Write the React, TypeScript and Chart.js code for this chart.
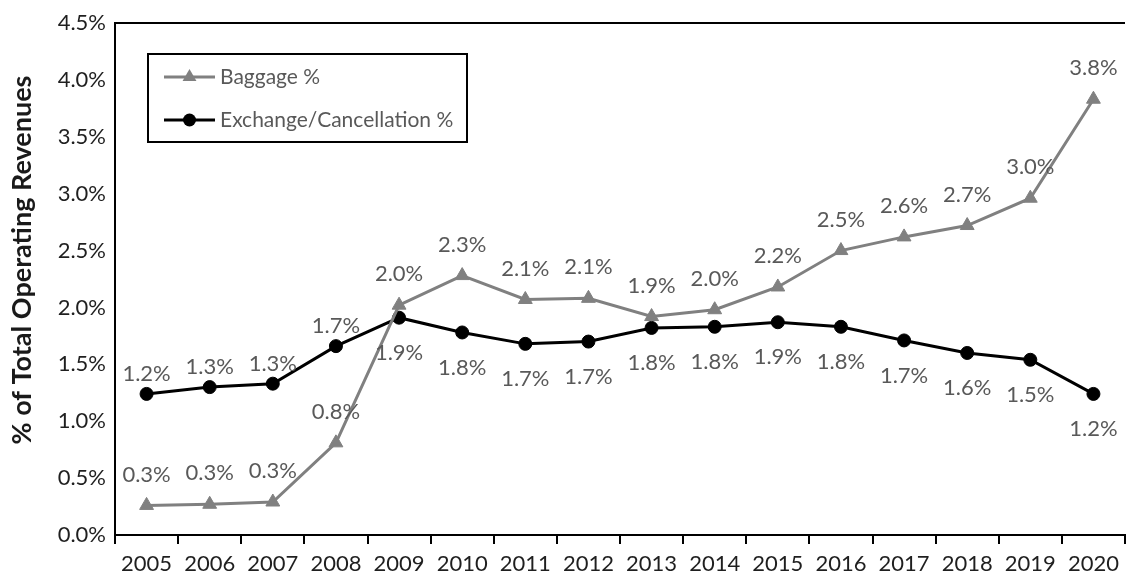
import React, { useEffect, useRef } from "react";
import { Chart, registerables } from "chart.js";

Chart.register(...registerables);

// Categories and series values (% of total operating revenues)
const years = [
  "2005", "2006", "2007", "2008", "2009", "2010", "2011", "2012",
  "2013", "2014", "2015", "2016", "2017", "2018", "2019", "2020",
];
const baggagePct = [
  0.26, 0.27, 0.29, 0.81, 2.02, 2.28, 2.07, 2.08,
  1.92, 1.98, 2.18, 2.5, 2.62, 2.72, 2.96, 3.83,
];
const exchangePct = [
  1.24, 1.3, 1.33, 1.66, 1.91, 1.78, 1.68, 1.7,
  1.82, 1.83, 1.87, 1.83, 1.71, 1.6, 1.54, 1.24,
];
const seriesNames = ["Baggage %", "Exchange/Cancellation %"];
const yMin = 0;
const yMax = 4.5;
const yStep = 0.5;
const yTitle = "% of Total Operating Revenues";

const FONT = "Lato, 'Open Sans', sans-serif";
const LABEL_COLOR = "#595959";
const TICK_COLOR = "#1f1f1f";
const BAGGAGE_COLOR = "#808080";
const EXCHANGE_COLOR = "#000000";

const fmt = (v: number) => v.toFixed(1) + "%";

// Value labels above/below each point
const valueLabels = {
  id: "valueLabels",
  afterDatasetsDraw(chart: any) {
    const ctx = chart.ctx;
    ctx.save();
    ctx.font = `22px ${FONT}`;
    ctx.fillStyle = LABEL_COLOR;
    ctx.textAlign = "center";
    ctx.textBaseline = "middle";
    const bag = chart.getDatasetMeta(0).data;
    const exc = chart.getDatasetMeta(1).data;
    bag.forEach((pt: any, i: number) => {
      ctx.fillText(fmt(baggagePct[i]), pt.x, pt.y - 31);
    });
    exc.forEach((pt: any, i: number) => {
      const upper = exchangePct[i] > baggagePct[i];
      ctx.fillText(fmt(exchangePct[i]), pt.x, upper ? pt.y - 20 : pt.y + 35);
    });
    ctx.restore();
  },
};

function drawMarker(ctx: CanvasRenderingContext2D, style: string, x: number, y: number, r: number) {
  ctx.beginPath();
  if (style === "triangle") {
    for (let k = 0; k < 3; k++) {
      const ang = -Math.PI / 2 + (k * 2 * Math.PI) / 3;
      const px = x + Math.cos(ang) * r;
      const py = y + Math.sin(ang) * r;
      if (k === 0) ctx.moveTo(px, py);
      else ctx.lineTo(px, py);
    }
    ctx.closePath();
  } else {
    ctx.arc(x, y, r, 0, Math.PI * 2);
  }
  ctx.fill();
}

// Top frame line, rotated y-axis title and boxed legend inside the plot area
const frameAndLegend = {
  id: "frameAndLegend",
  afterDraw(chart: any) {
    const ctx = chart.ctx;
    const a = chart.chartArea;
    ctx.save();
    ctx.strokeStyle = "#000";
    ctx.lineWidth = 2;
    ctx.beginPath();
    ctx.moveTo(a.left - 1, a.top);
    ctx.lineTo(a.right, a.top);
    ctx.stroke();

    // y-axis title, sitting a little below the axis midpoint
    ctx.save();
    ctx.translate(22, (a.top + a.bottom) / 2 - 19);
    ctx.rotate(-Math.PI / 2);
    ctx.font = `bold 27px ${FONT}`;
    ctx.fillStyle = "#1a1a1a";
    ctx.textAlign = "center";
    ctx.textBaseline = "middle";
    ctx.fillText(yTitle, 0, 0);
    ctx.restore();

    const bx = a.left + 33;
    const by = a.top + 31;
    const bw = 319;
    const bh = 88;
    ctx.fillStyle = "#fff";
    ctx.fillRect(bx, by, bw, bh);
    ctx.strokeRect(bx, by, bw, bh);

    const rows = [
      { name: seriesNames[0], color: BAGGAGE_COLOR, style: "triangle", r: 8 },
      { name: seriesNames[1], color: EXCHANGE_COLOR, style: "circle", r: 6.5 },
    ];
    rows.forEach((row, i) => {
      const y = by + 23 + i * 43;
      const x0 = bx + 16;
      const x1 = bx + 67;
      ctx.strokeStyle = row.color;
      ctx.lineWidth = 3;
      ctx.beginPath();
      ctx.moveTo(x0, y);
      ctx.lineTo(x1, y);
      ctx.stroke();
      ctx.fillStyle = row.color;
      drawMarker(ctx, row.style, (x0 + x1) / 2, y, row.r);
      ctx.fillStyle = LABEL_COLOR;
      ctx.font = `21px ${FONT}`;
      ctx.textAlign = "left";
      ctx.textBaseline = "middle";
      ctx.fillText(row.name, x1 + 5, y);
    });
    ctx.restore();
  },
};

export default function App() {
  const canvasRef = useRef<HTMLCanvasElement | null>(null);

  useEffect(() => {
    document.body.style.margin = "0";
    const canvas = canvasRef.current;
    if (!canvas) return;
    const chart = new Chart(canvas, {
      type: "line",
      data: {
        labels: years,
        datasets: [
          {
            label: seriesNames[0],
            data: baggagePct,
            borderColor: BAGGAGE_COLOR,
            backgroundColor: BAGGAGE_COLOR,
            borderWidth: 3,
            pointStyle: "triangle",
            pointRadius: 8,
            pointBorderWidth: 1,
            pointBackgroundColor: BAGGAGE_COLOR,
            pointBorderColor: BAGGAGE_COLOR,
            tension: 0,
          },
          {
            label: seriesNames[1],
            data: exchangePct,
            borderColor: EXCHANGE_COLOR,
            backgroundColor: EXCHANGE_COLOR,
            borderWidth: 3,
            pointStyle: "circle",
            pointRadius: 6.5,
            pointBorderWidth: 1,
            pointBackgroundColor: EXCHANGE_COLOR,
            pointBorderColor: EXCHANGE_COLOR,
            tension: 0,
          },
        ],
      },
      options: {
        animation: false,
        responsive: true,
        maintainAspectRatio: false,
        layout: { padding: { top: 23, right: 0, bottom: 0, left: 0 } },
        plugins: {
          legend: { display: false },
          tooltip: { enabled: false },
        },
        scales: {
          x: {
            type: "category",
            offset: true,
            grid: {
              offset: true,
              drawOnChartArea: false,
              drawTicks: true,
              tickLength: 9,
              color: "#000",
              lineWidth: 2,
            },
            border: { display: true, color: "#000", width: 2 },
            ticks: {
              font: { family: FONT, size: 22 },
              color: TICK_COLOR,
              padding: 7,
              maxRotation: 0,
              autoSkip: false,
            },
            afterFit: (s: any) => {
              s.height = 41;
            },
          },
          y: {
            min: yMin,
            max: yMax,
            ticks: {
              stepSize: yStep,
              font: { family: FONT, size: 22 },
              color: TICK_COLOR,
              padding: 9,
              callback: (v: any) => fmt(Number(v)),
            },
            grid: { display: true, drawOnChartArea: false, drawTicks: false },
            border: { display: true, color: "#000", width: 2 },
            title: { display: false },
            afterFit: (s: any) => {
              s.width = 115;
            },
          },
        },
      },
      plugins: [valueLabels, frameAndLegend],
    });
    return () => chart.destroy();
  }, []);

  return (
    <div style={{ position: "relative", width: 1134, height: 576 }}>
      <canvas ref={canvasRef} />
    </div>
  );
}
